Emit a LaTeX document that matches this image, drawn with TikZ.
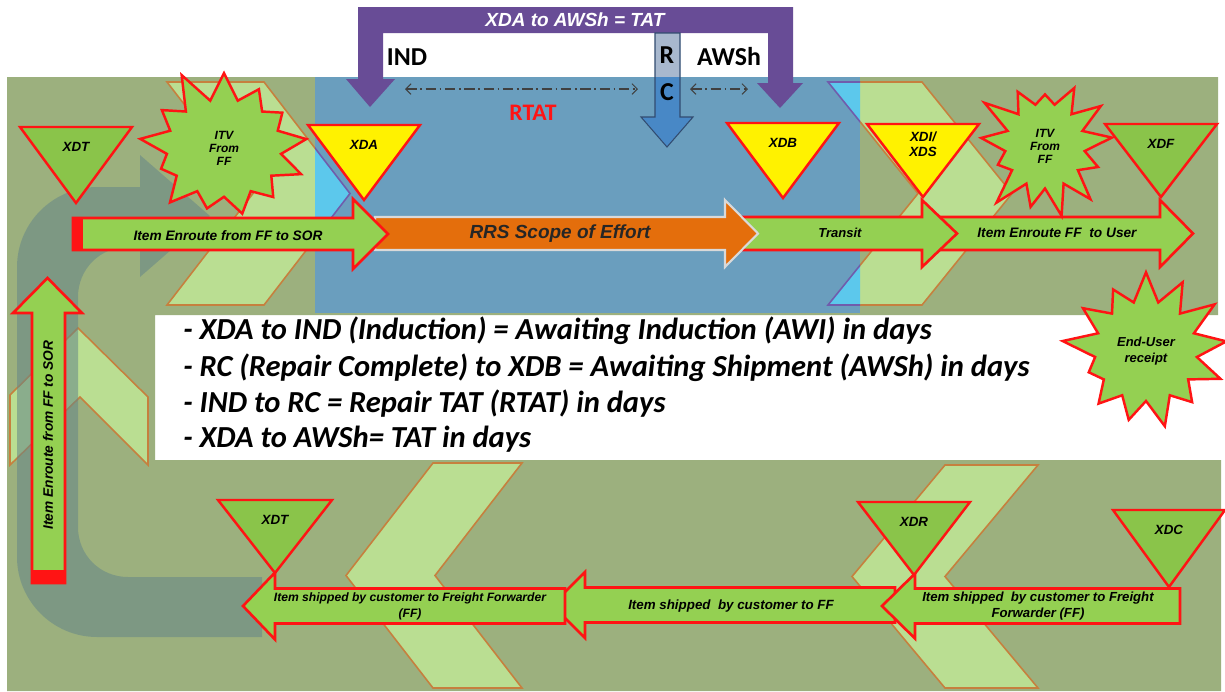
\documentclass[tikz,border=0pt]{standalone}
\usepackage{fontspec}
\setmainfont{Liberation Sans}
\newfontfamily\calibri{Carlito}
\usetikzlibrary{arrows.meta, shapes.symbols}
\definecolor{panelgreen}{RGB}{156,176,126}
\definecolor{regionblue}{RGB}{106,158,190}
\definecolor{chevgreen}{RGB}{186,222,146}
\definecolor{chevedge}{RGB}{198,128,62}
\definecolor{chevcyan}{RGB}{92,200,236}
\definecolor{chevpurple}{RGB}{112,92,172}
\definecolor{itemgreen}{RGB}{148,208,82}
\definecolor{trigreen}{RGB}{138,196,74}
\definecolor{alertred}{RGB}{255,20,20}
\definecolor{effortorange}{RGB}{228,110,12}
\definecolor{tatpurple}{RGB}{104,76,150}
\definecolor{rcsteel}{RGB}{168,184,206}
\definecolor{rcblue}{RGB}{72,136,198}
\definecolor{rcedge}{RGB}{50,76,112}
\definecolor{uturngrey}{RGB}{100,134,136}
\newcommand{\droptri}[7]{
\draw[tri, fill=#6] ({#2-#4},#3) -- ({#2+#4},#3) -- (#2,#5) -- cycle;
\node[trilabel] (#1) at (#2,{#3+20}) {#7};
}
\newcommand{\blockarrow}[7]{
\draw[#1] (#2,{#5-#6}) -- (#3,{#5-#6}) -- (#3,{#5-#7}) -- (#4,#5) -- (#3,{#5+#7}) -- (#3,{#5+#6}) -- (#2,{#5+#6}) -- cycle;
}
\newcommand{\chevron}[6]{
\draw[#1] (#2,#3) -- ({#2+#5},#3) -- ({#2+#5+#6},{(#3+#4)/2}) -- ({#2+#5},#4) -- (#2,#4) -- ({#2+#6},{(#3+#4)/2}) -- cycle;
}

\begin{document}
\begin{tikzpicture}[x=0.02cm, y=-0.02cm,
    tri/.style={draw=alertred, line width=1.4pt},
    trilabel/.style={font=\fontsize{7.6}{8.6}\selectfont\bfseries\itshape, align=center, inner sep=0pt},
    flow/.style={draw=alertred, fill=itemgreen, line width=1.5pt},
    effort/.style={draw=white!85!black, fill=effortorange, line width=1.2pt},
    chev/.style={draw=chevedge, fill=chevgreen, line width=0.9pt},
    chevhid/.style={draw=chevpurple, fill=chevcyan, line width=0.9pt},
    burst/.style={shape=starburst, draw=alertred, fill=itemgreen, line width=1.4pt, inner sep=0pt,
        starburst points=13, starburst point height=0.7cm, align=center,
        font=\fontsize{6.8}{7.4}\selectfont\bfseries\itshape},
    flowlabel/.style={font=\fontsize{7.8}{9}\selectfont\bfseries\itshape, align=center, inner sep=0pt},
    shiplabel/.style={font=\fontsize{7}{9}\selectfont\bfseries\itshape, align=center, inner sep=0pt},
    phase/.style={font=\calibri\fontsize{14.7}{16}\selectfont\bfseries, inner sep=0pt},
    span/.style={draw=black!75, line width=0.6pt, dash pattern=on 6pt off 2pt on 1pt off 2pt,
        {Straight Barb[length=3pt,width=6pt]}-{Straight Barb[length=3pt,width=6pt]}},
    note/.style={font=\calibri\fontsize{17.4}{21}\selectfont\bfseries\itshape, anchor=base west, inner sep=0pt}
]
\useasboundingbox (0,0) rectangle (1225,691);
\fill[white] (0,0) rectangle (1225,691);
% panels
\fill[panelgreen] (7,77) -- (1218,77) -- (1218,315) -- (155,315) -- (155,460) -- (1221,460) -- (1221,691) -- (7,691) -- cycle;
\chevron{chev}{167}{82}{305}{97}{86}
\chevron{chev}{828}{82}{305}{94}{90}
\chevron{chev}{433}{463}{688}{89}{-87}
\chevron{chev}{945}{465}{688}{93}{-93}
\draw[chev] (10,395) -- (78,328) -- (148,397) -- (148,465) -- (80,397) -- (10,465) -- cycle;
\fill[regionblue] (315,77) rectangle (860,313);
\begin{scope}
    \clip (315,77) rectangle (860,313);
    \chevron{chevhid}{167}{82}{305}{97}{86}
    \chevron{chevhid}{828}{82}{305}{94}{90}
\end{scope}
% return path
\fill[uturngrey, opacity=0.55] (262,637) -- (97,637) .. controls (53,637) and (17,601) .. (17,557)
    -- (17,267) .. controls (17,223) and (53,187) .. (97,187) -- (140,187) -- (140,155) -- (210,216)
    -- (140,277) -- (140,247) -- (128,247) .. controls (100,247) and (78,269) .. (78,297)
    -- (78,527) .. controls (78,555) and (100,577) .. (128,577) -- (262,577) -- cycle;
% TAT bracket and RC
\fill[tatpurple] (358,7) -- (793,7) -- (793,83) -- (803,83) -- (780,108) -- (757,83) -- (768,83)
    -- (768,33) -- (383,33) -- (383,79) -- (395,79) -- (370,107) -- (346,79) -- (358,79) -- cycle;
\node[font=\fontsize{10.8}{12}\selectfont\bfseries\itshape, text=white, inner sep=0pt] (tatlabel) at (575,20) {XDA to AWSh = TAT};
\fill[rcblue] (655,33) -- (680,33) -- (680,117) -- (693,117) -- (667,147) -- (641,117) -- (655,117) -- cycle;
\fill[rcsteel] (655,33) rectangle (680,77);
\draw[rcedge, line width=0.6pt] (655,33) -- (680,33) -- (680,117) -- (693,117) -- (667,147) -- (641,117) -- (655,117) -- cycle;
\node[phase] (ind) at (407,57) {IND};
\node[phase] (awsh) at (729,57) {AWSh};
\node[phase] (rcr) at (667,55) {R};
\node[phase] (rcc) at (667,92) {C};
\node[phase, font=\calibri\fontsize{13.5}{16}\selectfont\bfseries, text=alertred] (rtat) at (533,113) {RTAT};
\coordinate (rtatL) at (405,89);
\coordinate (rtatR) at (638,89);
\coordinate (awshL) at (690,89);
\coordinate (awshR) at (748,89);
\draw[span] (rtatL) -- (rtatR);
\draw[span] (awshL) -- (awshR);
% flow arrows, top row
\blockarrow{flow}{940}{1160}{1193}{233.5}{16.5}{33.5}
\blockarrow{flow}{743}{922}{957}{233.5}{16.5}{33.5}
\blockarrow{effort}{375}{725}{758}{233.5}{16.5}{33.5}
\blockarrow{flow}{73}{353}{388}{234}{16}{35}
\fill[alertred] (73,218) rectangle (83,250);
\draw[flow] (32,583) -- (32,313) -- (13,313) -- (47.5,278) -- (82,313) -- (65,313) -- (65,583) -- cycle;
\fill[alertred] (32,570) rectangle (65,583);
% flow arrows, bottom row
\blockarrow{flow}{895}{585}{552}{605}{17.5}{33}
\blockarrow{flow}{565}{275}{243}{606}{17.5}{33.5}
\blockarrow{flow}{1180}{915}{882}{606}{17.5}{32.5}
% triangles
\droptri{xdt}{76}{127}{56}{203}{trigreen}{XDT}
\droptri{xda}{364}{125}{56}{200}{yellow}{XDA}
\droptri{xdb}{783}{123}{56}{198}{yellow}{XDB}
\droptri{xdi}{923}{124}{56}{197}{yellow}{XDI/\\XDS}
\droptri{xdf}{1161}{124}{56}{197}{trigreen}{XDF}
\droptri{xdtb}{275}{500}{57}{573}{trigreen}{XDT}
\droptri{xdr}{914}{502}{56}{575}{trigreen}{XDR}
\droptri{xdc}{1169}{510}{56}{587}{trigreen}{XDC}
% bursts
\node[burst, minimum width=3.7cm, minimum height=3.35cm, random starburst=11] (itvff) at (224,148) {ITV\\From\\FF};
\node[burst, minimum width=3.0cm, minimum height=3.1cm, random starburst=23] (itvuser) at (1045,146) {ITV\\From\\FF};
\node[burst, minimum width=3.45cm, minimum height=3.4cm, random starburst=37,
    font=\fontsize{7.4}{9.5}\selectfont\bfseries\itshape] (receipt) at (1146,351) {End-User\\receipt};
% labels
\node[flowlabel] (sor) at (228,236) {Item Enroute from FF to SOR};
\node[flowlabel, font=\fontsize{10.8}{12}\selectfont\bfseries\itshape, text=black!85] (scope) at (560,234) {RRS Scope of Effort};
\node[flowlabel, font=\fontsize{7.4}{9}\selectfont\bfseries\itshape] (transit) at (840,233) {Transit};
\node[flowlabel] (touser) at (1057,233) {Item Enroute FF\ \ to User};
\node[flowlabel, rotate=90] (sorup) at (48,435) {Item Enroute from FF to SOR};
\node[shiplabel, font=\fontsize{6.9}{9}\selectfont\bfseries\itshape] (shipff) at (410,606) {Item shipped by customer to Freight Forwarder\\(FF)};
\node[shiplabel, font=\fontsize{7.6}{9}\selectfont\bfseries\itshape] (shipmid) at (731,606) {Item shipped\ \ by customer to FF};
\node[shiplabel, font=\fontsize{7.5}{9.5}\selectfont\bfseries\itshape] (shipcust) at (1038,606) {Item shipped\ \ by customer to Freight\\Forwarder (FF)};
% notes
\node[note] (awi) at (183,339) {- XDA to IND (Induction) = Awaiting Induction (AWI) in days};
\node[note] (ship) at (183,376) {- RC (Repair Complete) to XDB = Awaiting Shipment (AWSh) in days};
\node[note] (repair) at (183,412) {- IND to RC = Repair TAT (RTAT) in days};
\node[note] (total) at (183,447) {- XDA to AWSh= TAT in days};
\end{tikzpicture}
\end{document}
